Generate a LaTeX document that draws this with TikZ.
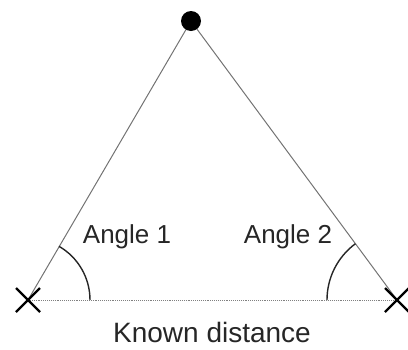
\documentclass[tikz,border=0pt]{standalone}
\usepackage{fontspec}
\setmainfont{Liberation Sans}
\usetikzlibrary{calc}
\begin{document}
\begin{tikzpicture}[x=1pt,y=-1pt,
  side/.style={draw=black!55, line width=1pt},
  base/.style={draw=black!50, line width=0.9pt, densely dotted},
  cross/.style={draw=black, line width=2.2pt},
  arcl/.style={draw=black!85, line width=1.4pt},
  lbl/.style={font=\fontsize{26}{30}\selectfont, text=black!85, inner sep=0pt}]
\useasboundingbox (0,0) rectangle (408,349);
\coordinate (L) at (28,300);
\coordinate (R) at (397,300);
\coordinate (T) at (191,21);
\draw[base] (L) -- (R);
\draw[side] (L) -- (T);
\draw[side] (R) -- (T);
\fill[black] (T) circle (10);
\draw[cross] ($(L)+(-12,-12)$) -- ($(L)+(12,12)$) ($(L)+(-12,12)$) -- ($(L)+(12,-12)$);
\draw[cross] ($(R)+(-12,-12)$) -- ($(R)+(12,12)$) ($(R)+(-12,12)$) -- ($(R)+(12,-12)$);
\draw[arcl] ($(L)+(62,0)$) arc[start angle=0, end angle=-60, radius=62];
\draw[arcl] ($(R)+(-70,0)$) arc[start angle=180, end angle=233.5, radius=70];
\node[lbl] (a1) at (127,237) {Angle 1};
\node[lbl] (a2) at (288,237) {Angle 2};
\node[lbl, font=\fontsize{28}{32}\selectfont] (kd) at (212,332) {Known distance};
\end{tikzpicture}
\end{document}
